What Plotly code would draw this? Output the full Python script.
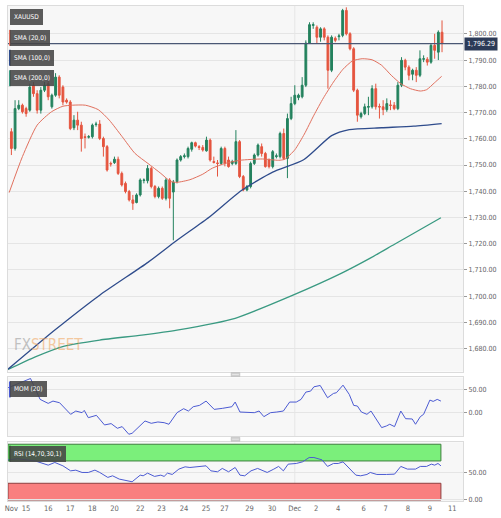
import plotly.graph_objects as go

# ---------------- DATA ----------------
bar_index = list(range(118))
opens = [1762.7,1756.3,1771.5,1772.8,1771.5,1770.9,1780.4,1777.2,1770.9,1778.5,
         1781.0,1772.2,1776.6,1783.5,1779.7,1774.7,1774.0,1764.2,1767.1,1765.2,
         1760.8,1760.6,1760.8,1765.4,1765.6,1760.1,1757.0,1750.6,1750.9,1752.2,
         1746.8,1743.0,1739.9,1736.7,1735.7,1738.6,1744.1,1744.0,1748.7,1741.8,
         1738.0,1741.1,1737.3,1744.3,1739.7,1743.7,1751.9,1753.2,1753.2,1756.0,
         1758.5,1757.0,1756.7,1755.4,1759.5,1751.3,1750.8,1750.6,1756.3,1751.9,
         1750.6,1750.6,1758.9,1745.6,1740.5,1741.8,1750.6,1753.8,1757.0,1754.4,
         1751.9,1749.4,1753.2,1753.2,1762.0,1752.5,1767.7,1773.4,1775.7,1776.0,
         1780.4,1796.5,1803.2,1802.5,1798.7,1801.9,1798.7,1786.1,1798.3,1798.9,
         1799.4,1808.9,1800.0,1794.3,1778.5,1768.4,1769.6,1772.0,1772.2,1779.1,
         1772.3,1772.2,1771.1,1772.9,1772.8,1771.5,1780.4,1789.9,1787.3,1784.6,
         1786.1,1784.2,1790.3,1790.3,1789.2,1795.6,1793.0,1800.6]
highs = [1764.0,1774.7,1774.7,1773.4,1772.2,1781.0,1781.6,1778.5,1779.7,1781.6,
         1782.3,1777.2,1785.0,1784.2,1780.4,1775.4,1774.7,1769.0,1770.3,1766.5,
         1762.0,1761.4,1765.8,1766.5,1767.1,1760.8,1757.6,1751.3,1753.2,1753.2,
         1747.5,1743.7,1740.5,1738.6,1739.2,1744.9,1744.9,1750.0,1749.4,1742.4,
         1741.8,1741.8,1745.0,1745.0,1744.3,1752.5,1753.8,1754.4,1757.0,1758.9,
         1758.9,1757.6,1757.6,1760.8,1760.1,1753.2,1751.9,1757.0,1757.0,1753.2,
         1752.0,1763.3,1759.5,1746.2,1742.4,1751.3,1754.4,1758.2,1758.2,1755.0,
         1752.5,1755.7,1754.4,1762.7,1763.9,1769.6,1776.0,1780.4,1777.2,1783.5,
         1797.5,1804.4,1804.4,1803.2,1802.5,1802.5,1799.4,1799.4,1799.0,1800.0,
         1809.5,1810.1,1800.6,1794.9,1779.1,1770.3,1773.4,1776.0,1780.4,1781.0,
         1773.4,1774.7,1775.4,1774.7,1774.0,1781.6,1791.1,1790.5,1788.0,1786.7,
         1787.3,1793.7,1791.8,1791.1,1796.2,1800.0,1801.3,1805.1]
lows = [1753.8,1755.5,1770.9,1769.6,1768.4,1770.3,1776.0,1769.6,1769.6,1777.8,
        1774.7,1771.5,1776.0,1775.4,1772.8,1773.4,1763.3,1763.3,1763.3,1755.1,
        1756.3,1760.1,1760.1,1764.6,1759.5,1753.2,1747.5,1749.4,1750.4,1746.2,
        1741.8,1739.2,1736.1,1732.9,1735.4,1738.0,1743.0,1743.0,1741.1,1737.3,
        1737.3,1736.7,1736.5,1733.5,1721.3,1743.0,1751.3,1752.5,1752.5,1755.1,
        1756.7,1755.7,1755.1,1755.1,1751.3,1750.6,1745.6,1750.0,1749.5,1749.0,
        1749.9,1750.0,1745.0,1740.0,1740.0,1741.1,1750.0,1753.2,1753.2,1749.0,
        1748.7,1748.7,1752.5,1752.5,1751.9,1745.0,1767.1,1772.8,1774.7,1775.4,
        1779.7,1796.2,1801.9,1796.2,1797.0,1797.5,1779.1,1785.4,1796.8,1797.5,
        1798.7,1799.4,1793.7,1777.8,1766.5,1767.7,1769.0,1769.0,1771.5,1771.1,
        1767.7,1769.0,1770.3,1770.9,1770.9,1770.9,1779.7,1786.1,1782.3,1782.3,
        1781.6,1783.5,1789.2,1787.9,1788.6,1790.5,1790.0,1793.0]
closes = [1756.3,1771.5,1772.8,1770.3,1769.6,1779.7,1777.2,1770.9,1778.5,1780.4,
          1776.0,1776.6,1783.5,1776.6,1774.0,1774.0,1763.9,1767.1,1765.2,1760.1,
          1760.5,1760.8,1765.2,1765.6,1760.1,1757.0,1748.1,1750.4,1752.2,1746.8,
          1742.4,1739.9,1736.7,1735.4,1738.6,1744.3,1744.3,1748.7,1741.8,1738.0,
          1741.1,1737.3,1744.3,1737.3,1743.5,1751.9,1753.2,1753.5,1756.3,1758.5,
          1757.2,1756.7,1755.7,1759.5,1751.9,1751.0,1750.6,1756.3,1750.6,1749.4,
          1751.3,1758.9,1745.6,1740.5,1741.8,1750.6,1753.8,1757.6,1754.4,1749.4,
          1749.4,1755.1,1753.5,1762.0,1752.5,1767.7,1773.4,1776.6,1776.6,1780.4,
          1796.5,1803.5,1803.5,1798.7,1801.9,1798.7,1786.1,1798.7,1797.5,1799.2,
          1808.9,1800.0,1794.3,1778.5,1769.0,1769.6,1772.2,1772.3,1779.1,1772.2,
          1772.1,1771.1,1773.4,1772.7,1771.5,1780.4,1789.9,1787.3,1784.2,1786.1,
          1784.2,1790.5,1790.5,1789.2,1795.6,1793.7,1800.6,1796.29]
last_price = 1796.29

sma20_x = [-0.6,3.0,7.0,10.9,14.0,16.6,20.1,23.6,26.6,30.1,33.6,37.1,40.6,43.3,45.0,
           48.5,52.0,54.6,58.1,62.1,68.2,72.6,74.3,77.0,79.6,82.2,84.8,87.5,90.1,
           92.7,95.3,98.0,100.6,103.2,105.8,108.4,111.1,112.8,115.0,116.9]
sma20_y = [1739.5,1753.2,1765.2,1770.3,1772.4,1772.8,1772.8,1771.1,1767.1,1760.8,
           1754.4,1750.6,1746.8,1743.7,1743.4,1744.4,1746.5,1748.8,1750.6,1751.8,
           1752.3,1751.8,1752.2,1755.8,1761.8,1769.0,1775.6,1781.6,1786.5,1789.7,
           1790.5,1790.1,1788.0,1784.2,1781.0,1779.1,1778.2,1778.7,1781.4,1783.8]
sma100_x = [-0.9,11.8,24.0,37.1,45.0,53.8,62.5,71.0,79.4,87.0,91.8,100.6,109.3,116.9]
sma100_y = [1672.2,1687.1,1700.4,1712.9,1721.3,1730.2,1740.3,1747.3,1752.0,1761.2,
            1763.5,1764.2,1764.8,1765.8]
sma200_x = [-0.9,6.5,14.4,24.0,35.4,45.0,60.8,76.5,89.6,97.5,104.1,116.7]
sma200_y = [1672.1,1676.9,1681.0,1683.3,1685.2,1687.1,1691.6,1700.4,1708.7,1714.5,
            1719.8,1729.9]

mom_x = [-0.9,5.2,7.8,10.0,11.3,13.1,16.1,17.5,19.2,19.8,20.9,23.1,25.3,27.1,28.8,
         30.1,31.9,32.8,36.3,38.0,39.8,41.5,42.8,45.0,46.8,48.1,49.4,51.1,52.9,55.1,
         57.3,59.9,60.8,62.1,66.0,67.3,68.6,70.4,72.1,73.9,75.6,77.4,78.7,80.0,81.3,
         82.2,83.9,85.9,87.5,88.3,90.1,91.2,91.8,93.0,94.0,95.1,96.6,97.7,98.8,100.6,
         101.9,102.8,104.1,105.8,107.1,108.9,109.8,111.1,112.0,113.7,114.6,115.7,116.7]
mom_y = [53.7,73.9,28.3,19.6,24.6,21.0,-4.3,2.9,-0.7,4.3,-11.6,-6.5,-27.5,-24.6,-34.8,
         -31.2,-47.8,-45.7,-18.8,-23.9,-21.0,-22.5,-26.0,-0.7,8.0,2.9,12.3,15.2,24.6,6.5,
         8.7,12.3,22.5,0.7,-0.7,2.9,-9.4,-0.7,0.7,2.9,22.5,22.5,28.3,44.2,46.4,
         55.8,58.7,31.9,41.3,42.8,59.4,44.2,39.1,15.2,13.8,0.7,-4.3,2.9,-11.6,-33.3,
         -29.7,-26.0,-31.2,2.9,-13.8,-14.5,-26.0,-9.4,-4.3,26.8,23.9,28.3,24.6]

rsi_x = [-0.9,1.7,6.5,10.0,11.8,14.0,16.1,17.5,19.2,20.9,22.7,24.0,26.2,27.5,29.3,
         31.0,32.8,35.0,35.8,37.0,38.9,40.6,41.5,42.4,43.7,45.5,47.2,48.5,50.3,52.9,
         54.2,56.0,57.3,59.0,60.8,62.1,63.4,65.1,66.9,69.5,71.3,72.6,73.9,75.2,77.4,
         79.1,80.9,82.2,84.4,85.9,87.5,88.8,90.1,91.4,93.6,94.9,96.6,97.5,99.3,101.9,
         104.1,105.8,107.6,109.8,111.1,112.8,114.1,115.0,115.9,116.7]
rsi_y = [72.0,74.0,70.0,62.5,67.3,61.3,52.3,53.5,49.4,49.4,53.6,49.4,40.5,43.4,37.5,
         34.5,32.7,44.6,43.4,48.2,42.3,44.6,42.3,48.2,45.8,55.4,59.5,58.3,59.0,61.3,
         52.3,50.6,56.6,50.6,58.3,44.6,43.4,52.3,56.6,49.4,55.4,60.2,52.3,64.3,65.5,
         68.4,76.2,76.2,72.0,60.2,65.5,65.5,68.4,60.2,44.6,43.4,45.8,49.4,45.8,45.8,
         46.4,60.2,55.4,55.4,60.2,60.2,64.3,62.5,65.5,61.3]

tick_pos = [0, 4, 10, 16, 22, 28, 35, 40.8, 46.9, 52.9, 57.9, 64.7, 70.8, 77, 82.8,
            88.8, 95.7, 101.7, 107.7, 113.7, 119.8]
tick_text = ["Nov", "15", "16", "17", "18", "20", "22", "23", "24", "25", "27", "29",
             "30", "Dec", "2", "4", "6", "7", "8", "9", "11"]

# ---------------- STYLE ----------------
GREEN = "#24825e"
RED = "#e5553f"
SMA20_C = "#e0705e"
SMA100_C = "#2f4c8c"
SMA200_C = "#3a9a82"
OSC_C = "#4b5ad2"
FONT = "Liberation Sans Narrow, DejaVu Sans Condensed, Roboto, sans-serif"
XMIN, XMAX = -0.92, 122.7

W, H = 501, 518
ML, MR, MT, MB = 5, 25, 5, 16
PW, PH = W - ML - MR, H - MT - MB


def px(x):
    return (x - ML) / PW


def py(y):
    return (H - MB - y) / PH


fig = go.Figure()
fig.add_trace(go.Candlestick(
    x=bar_index, open=opens, high=highs, low=lows, close=closes,
    increasing=dict(line=dict(color=GREEN, width=1), fillcolor=GREEN),
    decreasing=dict(line=dict(color=RED, width=1), fillcolor=RED),
    whiskerwidth=0, xaxis="x", yaxis="y", showlegend=False, hoverinfo="skip"))
for xs, ys, c, w in [(sma200_x, sma200_y, SMA200_C, 1.3), (sma100_x, sma100_y, SMA100_C, 1.3),
                     (sma20_x, sma20_y, SMA20_C, 1.0)]:
    fig.add_trace(go.Scatter(x=xs, y=ys, mode="lines", line=dict(color=c, width=w, shape="spline", smoothing=0.6),
                             xaxis="x", yaxis="y", showlegend=False, hoverinfo="skip"))
fig.add_trace(go.Scatter(x=mom_x, y=mom_y, mode="lines", line=dict(color=OSC_C, width=1),
                         xaxis="x2", yaxis="y2", showlegend=False, hoverinfo="skip"))
fig.add_trace(go.Scatter(x=rsi_x, y=rsi_y, mode="lines", line=dict(color=OSC_C, width=1),
                         xaxis="x3", yaxis="y3", showlegend=False, hoverinfo="skip"))

axis_common = dict(range=[XMIN, XMAX], showgrid=False, zeroline=False, showline=True, mirror=True,
                   linecolor="#dcdcdc", linewidth=1, fixedrange=True)
yax_common = dict(side="right", showline=True, mirror=True, linecolor="#dcdcdc", zeroline=False,
                  gridcolor="#e5e5e5", ticks="outside", ticklen=3, tickcolor="#9a9a9a",
                  tickfont=dict(family=FONT, size=7, color="#666"), fixedrange=True)

fig.update_layout(
    width=W, height=H, margin=dict(l=ML, r=MR, t=MT, b=MB),
    paper_bgcolor="white", plot_bgcolor="#f7f7f7",
    font=dict(family=FONT),
    xaxis=dict(axis_common, anchor="y", showticklabels=False, rangeslider=dict(visible=False)),
    xaxis2=dict(axis_common, anchor="y2", showticklabels=False),
    xaxis3=dict(axis_common, anchor="y3", tickvals=tick_pos, ticktext=tick_text, ticks="",
                tickfont=dict(family=FONT, size=7.5, color="#666")),
    yaxis=dict(yax_common, domain=[py(372), 1], anchor="x", range=[1671.3, 1810.6],
               tickvals=list(range(1680, 1801, 10)), tickformat=",.2f"),
    yaxis2=dict(yax_common, domain=[py(437), py(378)], anchor="x2", range=[-52.2, 76.1],
                tickvals=[0, 50], tickformat=".2f"),
    yaxis3=dict(yax_common, domain=[0, py(443)], anchor="x3", range=[-1.8, 103.6],
                tickvals=[0, 50], tickformat=".2f"),
)

shapes = []
for yr in ["y", "y2", "y3"]:
    shapes.append(dict(type="line", xref="x", yref=yr + " domain", x0=77, x1=77, y0=0, y1=1,
                       line=dict(color="#e6e6e6", width=1), layer="below"))
shapes.append(dict(type="rect", xref="x3", yref="y3", x0=XMIN, x1=116.7, y0=70, y1=100,
                   fillcolor="#7bef7b", line=dict(color="#3f7f3f", width=1), layer="below"))
shapes.append(dict(type="rect", xref="x3", yref="y3", x0=XMIN, x1=116.7, y0=0, y1=30,
                   fillcolor="#f97f7f", line=dict(color="#8d3f3f", width=1), layer="below"))
shapes.append(dict(type="line", xref="paper", yref="y", x0=0, x1=1, y0=last_price, y1=last_price,
                   line=dict(color="#4a5774", width=1.3)))
for hy in [373, 438]:
    shapes.append(dict(type="rect", xref="paper", yref="paper", x0=px(236), x1=px(245),
                       y0=py(hy + 4), y1=py(hy), fillcolor="#cfcfcf", line=dict(color="#b5b5b5", width=0.5)))
    shapes.append(dict(type="line", xref="paper", yref="paper", x0=px(237), x1=px(244),
                       y0=py(hy + 2), y1=py(hy + 2), line=dict(color="#f2f2f2", width=0.6)))

annotations = []
labels = [("XAUUSD", 7, 16.5, None),
          ("SMA (20,0)", 7, 37, SMA20_C),
          ("SMA (100,0)", 7, 57, SMA100_C),
          ("SMA (200,0)", 7, 77.5, SMA200_C),
          ("MOM (20)", 7, 390, OSC_C),
          ("RSI (14,70,30,1)", 7, 454.5, "#2f6f2f")]
for text, x0, yc, stripe in labels:
    if stripe:
        shapes.append(dict(type="rect", xref="paper", yref="paper", x0=px(x0 - 1), x1=px(x0 + 1),
                           y0=py(yc + 8), y1=py(yc - 8), fillcolor=stripe, line=dict(width=0)))
    annotations.append(dict(xref="paper", yref="paper", x=px(x0), y=py(yc),
                            text=text, showarrow=False, xanchor="left", yanchor="middle",
                            bgcolor="rgba(70,70,70,0.88)", borderpad=4, borderwidth=0,
                            font=dict(family=FONT, size=6.5, color="white")))
annotations.append(dict(xref="paper", yref="paper", x=px(477), y=py(43), text=f"{last_price:,.2f}",
                        showarrow=False, xanchor="left", yanchor="middle", bgcolor="#2c3a57",
                        borderpad=2, font=dict(family=FONT, size=7, color="white")))
annotations.append(dict(xref="paper", yref="paper", x=px(9), y=py(334), xanchor="left", yanchor="top",
                        showarrow=False, opacity=0.5,
                        text="<span style='color:#8a8a8a'>FX</span><span style='color:#f09a4a'>STREET</span>",
                        font=dict(family=FONT, size=15)))

fig.update_layout(shapes=shapes, annotations=annotations)
fig.write_html("out.html")
